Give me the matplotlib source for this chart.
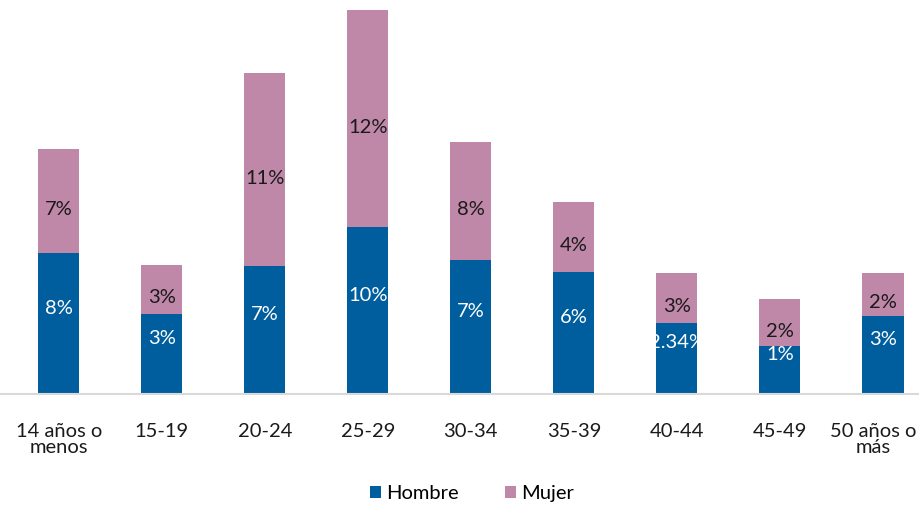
import matplotlib.pyplot as plt
import matplotlib.transforms as mtransforms
import numpy as np

plt.rcParams['font.family'] = ['Lato', 'DejaVu Sans']

# categories and bar heights
categorias = ['14 años o\nmenos', '15-19', '20-24', '25-29', '30-34',
              '35-39', '40-44', '45-49', '50 años o\nmás']
hombre = [8.3, 4.7, 7.5, 9.8, 7.9, 7.2, 4.2, 2.8, 4.6]
mujer = [6.1, 2.9, 11.4, 12.8, 6.9, 4.1, 2.9, 2.8, 2.5]
# labels as printed on the chart
etq_hombre = ['8%', '3%', '7%', '10%', '7%', '6%', '2.34%', '1%', '3%']
etq_mujer = ['7%', '3%', '11%', '12%', '8%', '4%', '3%', '2%', '2%']

azul = '#005e9e'
rosa = '#bf87a8'

fig = plt.figure(figsize=(9.2, 5.05), dpi=100)
ax = fig.add_axes([0.0, 0.22, 1.0, 0.78])

x = np.arange(len(categorias))
ancho = 0.4
b1 = ax.bar(x, hombre, ancho, color=azul, label='Hombre')
b2 = ax.bar(x, mujer, ancho, bottom=hombre, color=rosa, label='Mujer')

# labels inside the bars, clipped to the bar like in the original
for i in range(len(x)):
    t = ax.text(x[i], hombre[i] / 2 + 0.9, etq_hombre[i], ha='center', va='center',
                color='white', fontsize=14.5)
    t.set_clip_path(b1.patches[i])
    ax.text(x[i], hombre[i] + mujer[i] / 2 - 0.5, etq_mujer[i], ha='center',
            va='center', color='#1a1a1a', fontsize=14.5)

ax.set_xlim(-0.57, 8.36)
ax.set_ylim(0, 23.18)
ax.set_yticks([])
ax.set_xticks(x)
ax.set_xticklabels(categorias, fontsize=14.5, color='#1a1a1a', linespacing=0.9)
ax.tick_params(axis='x', length=0, pad=21)
# last label sits a bit to the left so it fits at the edge
ult = ax.get_xticklabels()[-1]
ult.set_transform(ult.get_transform() +
                  mtransforms.ScaledTranslation(-10 / 100, 0, fig.dpi_scale_trans))
for s in ['top', 'right', 'left']:
    ax.spines[s].set_visible(False)
ax.spines['bottom'].set_color('#d9d9d9')
ax.spines['bottom'].set_linewidth(1.5)

fig.legend(handles=[b1, b2], loc='center', bbox_to_anchor=(0.513, 0.022),
           ncol=2, frameon=False, fontsize=14.5, handlelength=0.55, handleheight=0.55,
           handletextpad=0.25, columnspacing=2.3)

plt.savefig('out.png', dpi=100)
